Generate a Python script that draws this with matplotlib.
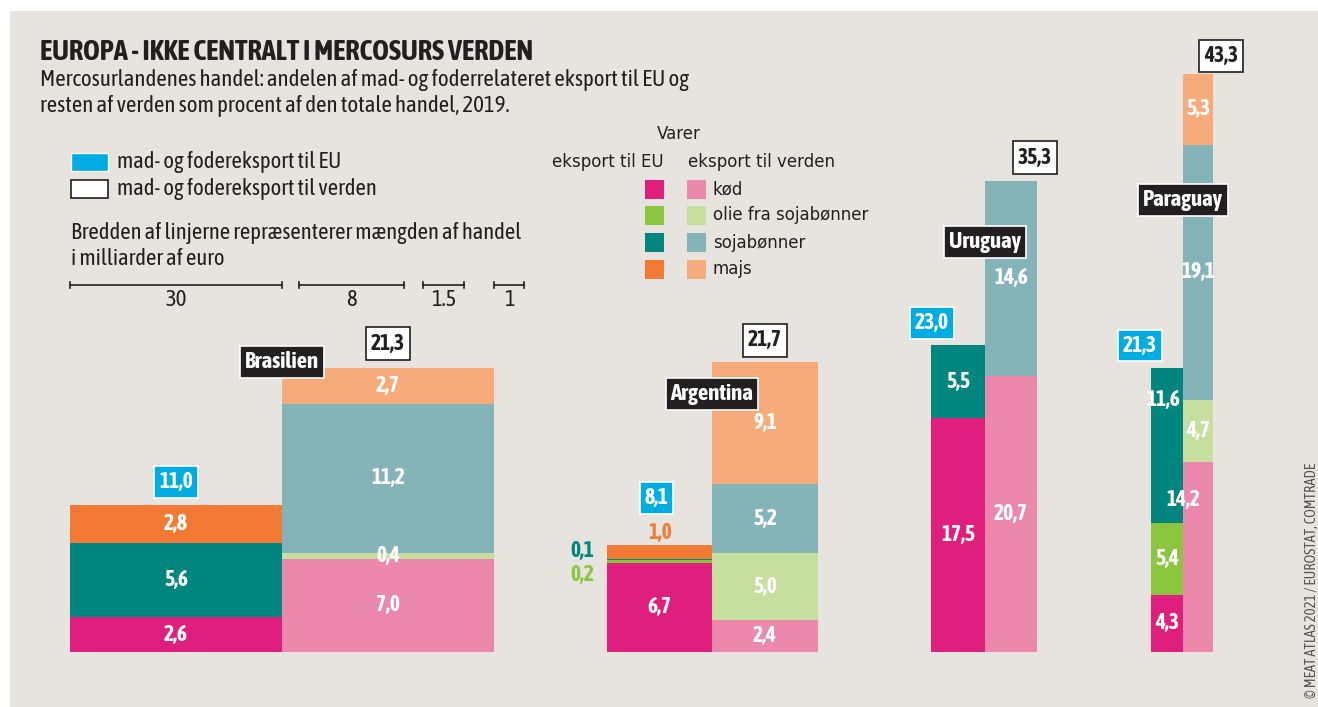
import matplotlib
matplotlib.use("Agg")
import matplotlib.pyplot as plt
from matplotlib.patches import Rectangle

# --- data (percent of total trade, 2019) ---
countries = ["Brasilien", "Argentina", "Uruguay", "Paraguay"]
categories = ["kød", "olie fra sojabønner", "sojabønner", "majs"]

eu_kod = [2.6, 6.7, 17.5, 4.3]
eu_olie = [0.0, 0.2, 0.0, 5.4]
eu_soja = [5.6, 0.1, 5.5, 11.6]
eu_majs = [2.8, 1.0, 0.0, 0.0]
eu_total = [11.0, 8.1, 23.0, 21.3]

world_kod = [7.0, 2.4, 20.7, 14.2]
world_olie = [0.4, 5.0, 0.0, 4.7]
world_soja = [11.2, 5.2, 14.6, 19.1]
world_majs = [2.7, 9.1, 0.0, 5.3]
world_total = [21.3, 21.7, 35.3, 43.3]

scale_values = ["30", "8", "1.5", "1"]

# --- colours ---
eu_colors = ["#e01e7e", "#8cc63e", "#00857f", "#f27a34"]
world_colors = ["#ec88ab", "#c6df9e", "#84b4b8", "#f7ab7a"]
cyan = "#00ade2"
bg = "#e7e3de"
dark = "#231f20"

# --- layout (pixels) ---
W, H = 1318, 707
S = 13.35          # pixels per percent
BASE = 652         # baseline pixel row
eu_left = [70, 607, 931, 1151]
eu_width = [212, 105, 54, 32]
world_width = [212, 106, 52, 30]

narrow = ["Asap Condensed", "DejaVu Sans"]
plain = ["DejaVu Sans"]


def fmt(v):
    return f"{v:.1f}".replace(".", ",")


def pct(ypx):
    return (BASE - ypx) / S


fig = plt.figure(figsize=(W / 100, H / 100), dpi=100)
fig.patch.set_facecolor("white")
fig.add_artist(Rectangle((10 / W, 0), 1, 1 - 11 / H, transform=fig.transFigure,
                         facecolor=bg, edgecolor="none", zorder=-5))

ax = fig.add_axes([0, 0, 1, 1])
ax.set_xlim(0, W)
ax.set_ylim((BASE - H) / S, BASE / S)
ax.axis("off")
ax.patch.set_alpha(0)


def T(x, y, s, **kw):
    return fig.text(x / W, 1 - y / H, s, **kw)


eu_vals = [eu_kod, eu_olie, eu_soja, eu_majs]
world_vals = [world_kod, world_olie, world_soja, world_majs]

# label nudges (percent units / pixels) where the original moves them
y_nudge = {("eu", 3, 2): 3.4, ("world", 3, 0): 4.3}
x_nudge = {("world", 3, 0): -15, ("eu", 3, 2): -4}
outside = {("eu", 1, 1): (582, 575), ("eu", 1, 2): (582, 551), ("eu", 1, 3): (660, 533)}

for i, c in enumerate(countries):
    for side, vals, cols, left, width in [
        ("eu", eu_vals, eu_colors, eu_left[i], eu_width[i]),
        ("world", world_vals, world_colors, eu_left[i] + eu_width[i], world_width[i]),
    ]:
        bottom = 0
        for k in range(len(categories)):
            v = vals[k][i]
            if v <= 0:
                continue
            ax.bar(left, v, width=width, bottom=bottom, align="edge",
                   color=cols[k], linewidth=0)
            key = (side, i, k)
            if key in outside:
                x, y = outside[key]
                ax.text(x, pct(y), fmt(v), ha="center", va="center", color=cols[k],
                        fontsize=15.5, fontweight="bold", family=narrow)
            else:
                ax.text(left + width / 2 + x_nudge.get(key, 0),
                        bottom + v / 2 + y_nudge.get(key, 0), fmt(v),
                        ha="center", va="center", color="white",
                        fontsize=15.5, fontweight="bold", family=narrow)
            bottom += v

# totals and country names
eu_box_dx = [0, -3, -26, -27]
eu_box_dy = [23, 46, 22, 22]
world_box_dx = [0, 0, 24, 23]
world_box_dy = [24, 22, 23, 18]
name_y = [362, 394, 242, 200]

for i, c in enumerate(countries):
    ecx = eu_left[i] + eu_width[i] / 2 + eu_box_dx[i]
    ax.text(ecx, eu_total[i] + eu_box_dy[i] / S, fmt(eu_total[i]), ha="center",
            va="center", color="white", fontsize=15.5, fontweight="bold", family=narrow,
            bbox=dict(boxstyle="square,pad=0.22", fc=cyan, ec="white", lw=1.2))
    wcx = eu_left[i] + eu_width[i] + world_width[i] / 2 + world_box_dx[i]
    ax.text(wcx, world_total[i] + world_box_dy[i] / S, fmt(world_total[i]), ha="center",
            va="center", color=dark, fontsize=15.5, fontweight="bold", family=narrow,
            bbox=dict(boxstyle="square,pad=0.25", fc="white", ec=dark, lw=1.2))
    ax.text(eu_left[i] + eu_width[i], pct(name_y[i]), c, ha="center", va="center",
            color="white", fontsize=16.5, fontweight="bold", family=narrow,
            bbox=dict(boxstyle="square,pad=0.22", fc=dark, ec="white", lw=1.2))

# title block
T(40, 52, "EUROPA - IKKE CENTRALT I MERCOSURS VERDEN", fontsize=20.5,
  fontweight="bold", family=narrow, color=dark, va="center")
T(40, 80, "Mercosurlandenes handel: andelen af mad- og foderrelateret eksport til EU og",
  fontsize=16.5, family=narrow, color=dark, va="center")
T(40, 106, "resten af verden som procent af den totale handel, 2019.",
  fontsize=16.5, family=narrow, color=dark, va="center")

# left legend
fig.add_artist(Rectangle((71 / W, 1 - 171 / H), 37 / W, 18 / H, transform=fig.transFigure,
                         facecolor=cyan, edgecolor="white", lw=1))
fig.add_artist(Rectangle((71 / W, 1 - 198 / H), 37 / W, 18 / H, transform=fig.transFigure,
                         facecolor="white", edgecolor=dark, lw=1.2))
fs_leg = 16.3
T(117, 162, "mad- og fodereksport til EU", fontsize=fs_leg, family=narrow, color=dark, va="center")
T(117, 189, "mad- og fodereksport til verden", fontsize=fs_leg, family=narrow, color=dark, va="center")
T(71, 233, "Bredden af linjerne repræsenterer mængden af handel", fontsize=fs_leg,
  family=narrow, color=dark, va="center")
T(71, 259, "i milliarder af euro", fontsize=fs_leg, family=narrow, color=dark, va="center")

scale_x0 = [70, 299, 423, 494]
scale_x1 = [282, 404, 464, 524]
for x0, x1, s in zip(scale_x0, scale_x1, scale_values):
    ax.plot([x0, x1], [pct(285)] * 2, color=dark, lw=1.2)
    ax.plot([x0, x0], [pct(282), pct(288)], color=dark, lw=1.2)
    ax.plot([x1, x1], [pct(282), pct(288)], color=dark, lw=1.2)
    T((x0 + x1) / 2, 300, s, fontsize=fs_leg, family=narrow, color=dark,
      ha="center", va="center")

# category legend
T(679, 134, "Varer", fontsize=12, family=plain, color=dark, ha="center", va="center")
T(608, 162, "eksport til EU", fontsize=12, family=plain, color=dark, ha="center", va="center")
T(688, 162, "eksport til verden", fontsize=12, family=plain, color=dark, va="center")
row_top = [180, 206, 233, 260]
for k, cat in enumerate(categories):
    fig.add_artist(Rectangle((645 / W, 1 - (row_top[k] + 19) / H), 19 / W, 19 / H,
                             transform=fig.transFigure, facecolor=eu_colors[k], lw=0))
    fig.add_artist(Rectangle((687 / W, 1 - (row_top[k] + 19) / H), 19 / W, 19 / H,
                             transform=fig.transFigure, facecolor=world_colors[k], lw=0))
    T(713, row_top[k] + 9.5, cat, fontsize=12, family=plain, color=dark, va="center")

# source
T(1312, 580, "© MEAT ATLAS 2021 / EUROSTAT, COMTRADE", fontsize=10.5, family=narrow,
  color="#555555", rotation=90, ha="center", va="center")

fig.savefig("out.png", dpi=100, facecolor=fig.get_facecolor())
